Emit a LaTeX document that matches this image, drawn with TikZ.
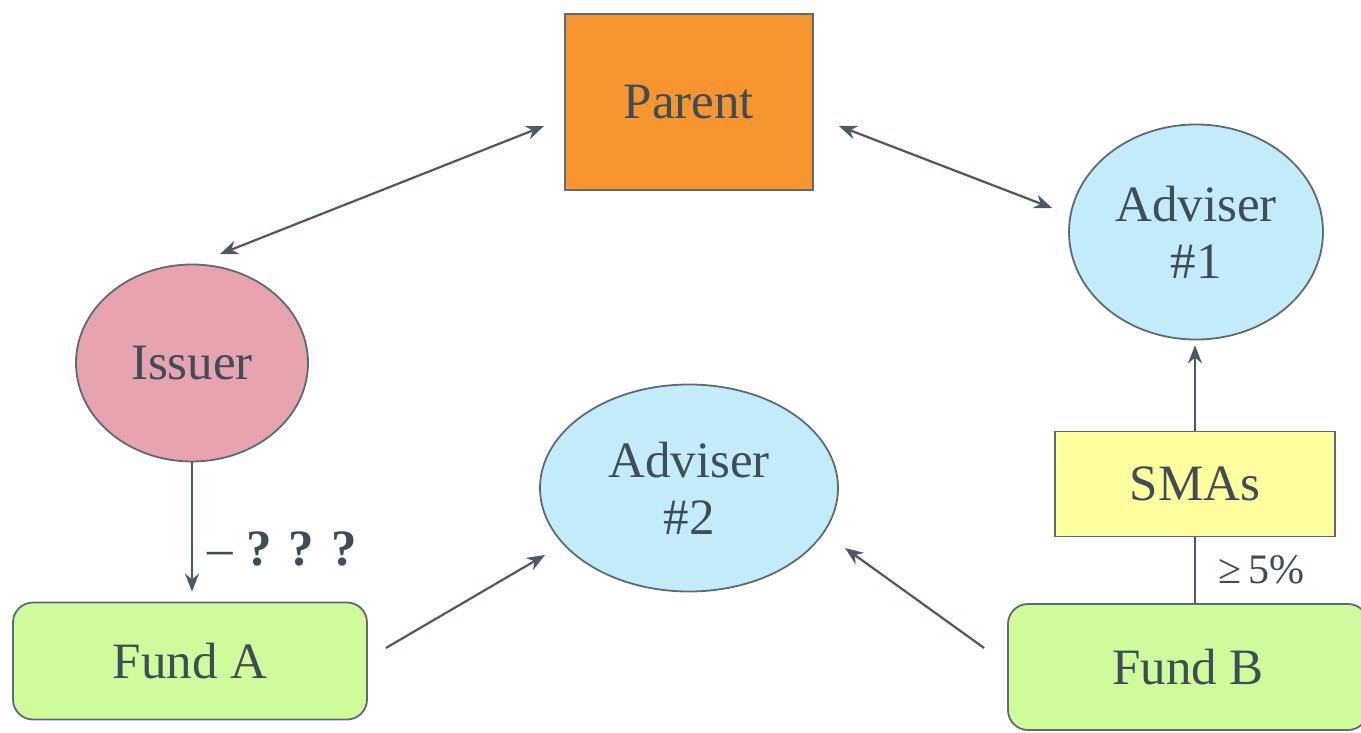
\documentclass[tikz,border=0pt]{standalone}
\usepackage{fontspec}
\setmainfont{Liberation Serif}
\usetikzlibrary{shapes.geometric,arrows.meta}
\definecolor{txt}{HTML}{3E4D58}
\definecolor{edge}{HTML}{4C5966}
\definecolor{bord}{HTML}{5E6B72}
\definecolor{orng}{HTML}{F7962E}
\definecolor{pnk}{HTML}{E7A3AE}
\definecolor{lblue}{HTML}{C3ECFB}
\definecolor{ylw}{HTML}{FFFF9E}
\definecolor{grn}{HTML}{D0FB9B}
\tikzset{
  base/.style={draw=bord, line width=0.9pt, text=txt, inner sep=0pt,
    font=\fontsize{25.5}{28.5}\selectfont, align=center},
  boxnode/.style={base, rectangle},
  ellnode/.style={base, ellipse},
  fundnode/.style={base, rectangle, rounded corners=10pt, fill=grn},
  conn/.style={draw=edge, line width=1.1pt},
  arr/.style={conn, -{Stealth[length=9pt,width=7pt]}},
  darr/.style={conn, {Stealth[length=9pt,width=7pt]}-{Stealth[length=9pt,width=7pt]}},
}
\begin{document}
\begin{tikzpicture}[x=0.5pt,y=-0.5pt]
\useasboundingbox (0,0) rectangle (1361,733);
\node[boxnode, fill=orng, minimum width=124pt, minimum height=88pt] (parent) at (689,102) {Parent};
\node[ellnode, fill=lblue, minimum width=127pt, minimum height=107.5pt] (adv1) at (1196,232) {Adviser\\\#1};
\node[ellnode, fill=pnk, minimum width=116pt, minimum height=98.5pt] (issuer) at (192,363) {Issuer};
\node[ellnode, fill=lblue, minimum width=149pt, minimum height=103.5pt] (adv2) at (689,488) {Adviser\\\#2};
\node[boxnode, fill=ylw, minimum width=140pt, minimum height=52.5pt] (smas) at (1195,484) {SMAs};
\node[fundnode, minimum width=177pt, minimum height=58.5pt] (funda) at (190,661) {Fund A};
\node[fundnode, minimum width=180pt, minimum height=63pt] (fundb) at (1188,667) {Fund B};

\coordinate (p1) at ([shift={(-20,24)}]parent.west);
\coordinate (i1) at ([shift={(28,-9.5)}]issuer.north);
\coordinate (p2) at ([shift={(25,24)}]parent.east);
\coordinate (a1) at ([shift={(-16,-24)}]adv1.west);
\coordinate (fa) at ([shift={(18,-13)}]funda.east);
\coordinate (a2l) at ([shift={(-144,67)}]adv2.center);
\coordinate (fb) at ([shift={(-23,-19)}]fundb.west);
\coordinate (a2r) at ([shift={(156,60)}]adv2.center);

\draw[darr] (p1) -- (i1);
\draw[darr] (p2) -- (a1);
\draw[arr, shorten >=5pt] (issuer.south) -- (issuer.south |- funda.north)
  node[pos=0.62, right=4pt, text=txt, font=\fontsize{25.5}{28}\selectfont, anchor=west] (q) {\textendash\ \textbf{?\,\,?\,\,?}};
\draw[arr] (fa) -- (a2l);
\draw[arr] (fb) -- (a2r);
\draw[arr, shorten >=2.5pt] (smas.north) -- (smas.north |- adv1.south);
\draw[conn] (smas.south) -- (smas.south |- fundb.north)
  node[midway, right=8pt, text=txt, font=\fontsize{21}{24}\selectfont] (pct) {≥\,5\%};
\end{tikzpicture}
\end{document}
